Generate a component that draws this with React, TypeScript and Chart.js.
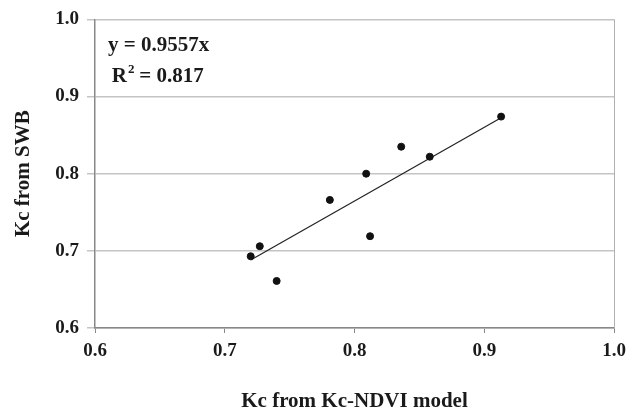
import React, { useEffect, useRef } from "react";
import { Chart, registerables } from "chart.js";

Chart.register(...registerables);

const ndviKc = [0.72, 0.727, 0.74, 0.781, 0.809, 0.812, 0.836, 0.858, 0.913];
const swbKc = [0.693, 0.706, 0.661, 0.766, 0.8, 0.719, 0.835, 0.822, 0.874];
const slope = 0.9557;
const r2Text = "0.817";
const xTicks = [0.6, 0.7, 0.8, 0.9, 1.0];
const yTicks = [0.6, 0.7, 0.8, 0.9, 1.0];
const xTitle = "Kc from Kc-NDVI model";
const yTitle = "Kc from SWB";

const FONT = "'Liberation Serif', 'Times New Roman', serif";

const annotationPlugin = {
  id: "eqAnnot",
  afterDraw(chart: any) {
    const ctx = chart.ctx;
    const xs = chart.scales.x;
    const ys = chart.scales.y;
    ctx.save();
    ctx.fillStyle = "#1a1a1a";
    ctx.font = `bold 21px ${FONT}`;
    ctx.textBaseline = "alphabetic";
    ctx.textAlign = "left";
    const x0 = xs.getPixelForValue(0.61);
    ctx.fillText(`y = ${slope}x`, x0, ys.getPixelForValue(0.959));
    const x1 = xs.getPixelForValue(0.613);
    const yb = ys.getPixelForValue(0.919);
    ctx.fillText("R", x1, yb);
    const rw = ctx.measureText("R").width;
    ctx.font = `bold 13px ${FONT}`;
    ctx.fillText("2", x1 + rw + 1, yb - 9);
    ctx.font = `bold 21px ${FONT}`;
    ctx.fillText(` = ${r2Text}`, x1 + rw + 7, yb);
    // right border
    ctx.strokeStyle = "#b0b0b0";
    ctx.lineWidth = 1;
    ctx.beginPath();
    const rx = Math.round(xs.getPixelForValue(1.0)) + 0.5;
    ctx.moveTo(rx, ys.getPixelForValue(1.0));
    ctx.lineTo(rx, ys.getPixelForValue(0.6));
    ctx.stroke();
    ctx.restore();
  },
};

export default function App() {
  const ref = useRef<HTMLCanvasElement | null>(null);
  useEffect(() => {
    document.body.style.margin = "0";
    const points = ndviKc.map((x, i) => ({ x, y: swbKc[i] }));
    const xMin = Math.min(...ndviKc);
    const xMax = Math.max(...ndviKc);
    const trend = [
      { x: xMin, y: slope * xMin },
      { x: xMax, y: slope * xMax },
    ];
    const chart = new Chart(ref.current as HTMLCanvasElement, {
      type: "scatter",
      data: {
        datasets: [
          {
            label: "data",
            data: points,
            backgroundColor: "#111",
            borderColor: "#111",
            pointRadius: 3.5,
            pointHoverRadius: 3.5,
          },
          {
            label: "trend",
            data: trend,
            showLine: true,
            borderColor: "#222",
            borderWidth: 1.2,
            pointRadius: 0,
            fill: false,
          } as any,
        ],
      },
      options: {
        animation: false,
        responsive: false,
        maintainAspectRatio: false,
        layout: { padding: { top: 17, right: 25, left: 0, bottom: 0 } },
        plugins: { legend: { display: false }, tooltip: { enabled: false } },
        scales: {
          x: {
            type: "linear",
            min: 0.6,
            max: 1.0,
            afterBuildTicks: (s: any) => {
              s.ticks = xTicks.map((v) => ({ value: v }));
            },
            afterFit: (s: any) => {
              s.height = 88;
            },
            ticks: {
              padding: 7,
              color: "#1a1a1a",
              font: { family: FONT, size: 19, weight: "bold" },
              callback: (v: any) => Number(v).toFixed(1),
            },
            grid: {
              drawOnChartArea: false,
              drawTicks: true,
              tickLength: 5,
              color: "#888",
            },
            border: { display: true, color: "#888", width: 1.5 },
            title: {
              display: true,
              text: xTitle,
              color: "#1a1a1a",
              font: { family: FONT, size: 21, weight: "bold" },
              padding: { top: 8, bottom: 2 },
            },
          },
          y: {
            type: "linear",
            min: 0.6,
            max: 1.0,
            afterBuildTicks: (s: any) => {
              s.ticks = yTicks.map((v) => ({ value: v }));
            },
            afterFit: (s: any) => {
              s.width = 95;
            },
            ticks: {
              padding: 8,
              color: "#1a1a1a",
              font: { family: FONT, size: 19, weight: "bold" },
              callback: (v: any) => Number(v).toFixed(1),
            },
            grid: {
              color: "#c4c4c4",
              lineWidth: 1.5,
              drawTicks: true,
              tickLength: 8,
            },
            border: { display: true, color: "#888", width: 1.5 },
            title: {
              display: true,
              text: yTitle,
              color: "#1a1a1a",
              font: { family: FONT, size: 21, weight: "bold" },
              padding: { top: 11, bottom: 4 },
            },
          },
        },
      },
      plugins: [annotationPlugin],
    });
    return () => chart.destroy();
  }, []);
  return (
    <div style={{ width: 639, height: 416, background: "#fff" }}>
      <canvas ref={ref} width={639} height={416} style={{ display: "block" }} />
    </div>
  );
}
